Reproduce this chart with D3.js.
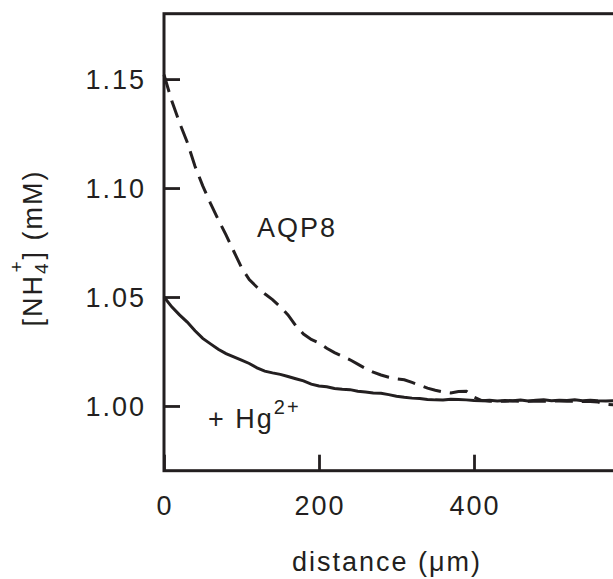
<!DOCTYPE html>
<html>
<head>
<meta charset="utf-8">
<script src="https://cdn.jsdelivr.net/npm/d3@7"></script>
<style>
  html, body { margin: 0; padding: 0; background: #fff; overflow: hidden; }
  text { font-family: "Liberation Sans", Arial, Helvetica, sans-serif; fill: #231f20; }
</style>
</head>
<body>
<script>
// ---- data ----
const distance = [0,10,20,30,40,50,60,70,80,90,100,110,120,130,140,150,160,170,180,190,
  200,210,220,230,240,250,260,270,280,290,300,310,320,330,340,350,360,370,380,390,
  400,410,420,430,440,450,460,470,480,490,500,510,520,530,540,550,560,570,580,590];

const hgValues = [1.0500,1.0455,1.0418,1.0385,1.0345,1.0310,1.0285,1.0260,1.0240,1.0225,
  1.0210,1.0195,1.0175,1.0160,1.0152,1.0145,1.0135,1.0125,1.0115,1.0100,
  1.0092,1.0088,1.0080,1.0077,1.0075,1.0068,1.0064,1.0060,1.0058,1.0052,
  1.0045,1.0040,1.0036,1.0034,1.0030,1.0028,1.0027,1.0031,1.0030,1.0028,
  1.0025,1.0024,1.0026,1.0023,1.0025,1.0024,1.0027,1.0023,1.0026,1.0028,
  1.0024,1.0026,1.0025,1.0028,1.0024,1.0026,1.0024,1.0023,1.0024,1.0022];

const aqp8Values = [1.1520,1.1400,1.1300,1.1210,1.1100,1.1010,1.0930,1.0855,1.0785,1.0710,
  1.0635,1.0580,1.0545,1.0515,1.0488,1.0455,1.0418,1.0368,1.0330,1.0305,
  1.0290,1.0265,1.0245,1.0228,1.0212,1.0192,1.0172,1.0155,1.0142,1.0132,
  1.0124,1.0120,1.0108,1.0095,1.0082,1.0072,1.0064,1.0060,1.0066,1.0068,
  1.0040,1.0025,1.0022,1.0022,1.0022,1.0023,1.0022,1.0022,1.0023,1.0022,
  1.0022,1.0023,1.0022,1.0022,1.0021,1.0020,1.0018,1.0008,1.0005,1.0008];

const xTicks = [0, 200, 400];
const yTicks = [1.00, 1.05, 1.10, 1.15];
const yTickLabels = ["1.00", "1.05", "1.10", "1.15"];

// ---- drawing ----
const W = 613, H = 579;
const color = "#231f20";
const svg = d3.select("body").append("svg").attr("width", W).attr("height", H);

const x = d3.scaleLinear().domain([0, 600]).range([164, 629]);
const y = d3.scaleLinear().domain([0.9703, 1.18]).range([470.7, 13.7]);

// frame
svg.append("rect")
  .attr("x", x(0)).attr("y", y(1.18))
  .attr("width", x(600) - x(0)).attr("height", y(0.9703) - y(1.18))
  .attr("fill", "none").attr("stroke", color).attr("stroke-width", 3);

// y axis (inward ticks)
const yAxis = d3.axisRight(y).tickValues(yTicks).tickSize(16).tickFormat("");
const gy = svg.append("g").attr("transform", `translate(${x(0)},0)`).call(yAxis);
gy.select(".domain").remove();
gy.selectAll(".tick line").attr("stroke", color).attr("stroke-width", 2.8);

svg.append("g").selectAll("text").data(yTicks).join("text")
  .attr("x", 146).attr("y", d => y(d)).attr("dy", "0.36em")
  .attr("text-anchor", "end")
  .style("font-size", "27px").style("letter-spacing", "2px")
  .text((d, i) => yTickLabels[i]);

// x axis (inward ticks)
const xAxis = d3.axisTop(x).tickValues(xTicks).tickSize(16).tickFormat("");
const gx = svg.append("g").attr("transform", `translate(0,${y(0.9703)})`).call(xAxis);
gx.select(".domain").remove();
gx.selectAll(".tick line").attr("stroke", color).attr("stroke-width", 2.8);

svg.append("g").selectAll("text").data(xTicks).join("text")
  .attr("x", d => x(d) + 1).attr("y", 515)
  .attr("text-anchor", "middle")
  .style("font-size", "27px").style("letter-spacing", "2px")
  .text(d => d);

// axis titles
svg.append("text")
  .attr("x", 387).attr("y", 571)
  .attr("text-anchor", "middle")
  .style("font-size", "27px").style("letter-spacing", "2px")
  .text("distance (μm)");

const yt = svg.append("text")
  .attr("transform", "translate(42,248) rotate(-90)")
  .attr("text-anchor", "middle")
  .style("font-size", "27px").style("letter-spacing", "2px");
yt.append("tspan").text("[NH");
yt.append("tspan").attr("dy", 6).style("font-size", "19px").text("4");
yt.append("tspan").attr("dy", -25).attr("dx", -11).style("font-size", "19px").text("+");
yt.append("tspan").attr("dy", 19).text("] (mM)");

// lines
const line = d3.line().x(d => x(d[0])).y(d => y(d[1]));
svg.append("path")
  .datum(distance.map((d, i) => [d, aqp8Values[i]]))
  .attr("d", line).attr("fill", "none").attr("stroke", color)
  .attr("stroke-width", 3).attr("stroke-dasharray", "18,9");
svg.append("path")
  .datum(distance.map((d, i) => [d, hgValues[i]]))
  .attr("d", line).attr("fill", "none").attr("stroke", color)
  .attr("stroke-width", 3);

// annotations
svg.append("text")
  .attr("x", 257).attr("y", 237)
  .style("font-size", "27px").style("letter-spacing", "2px")
  .text("AQP8");

const hg = svg.append("text")
  .attr("x", 208).attr("y", 428)
  .style("font-size", "27px").style("letter-spacing", "2px");
hg.append("tspan").text("+ Hg");
hg.append("tspan").attr("dy", -14).style("font-size", "20px").text("2+");
</script>
</body>
</html>
